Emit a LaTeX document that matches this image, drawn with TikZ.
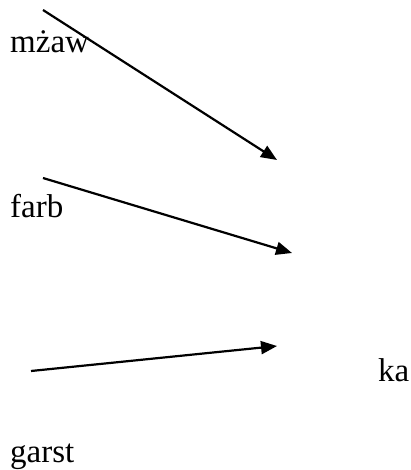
\documentclass[tikz,border=0pt]{standalone}
\usepackage{fontspec}
\setmainfont{Liberation Serif}
\usetikzlibrary{arrows.meta,positioning}
\tikzset{
  word/.style={
    anchor=base west,
    inner sep=0pt,
    font=\fontsize{33}{39}\selectfont
  },
  line/.style={-{Triangle[length=16pt,width=13pt]}, line width=2.2pt, draw=black}
}
\begin{document}
\begin{tikzpicture}[x=1pt,y=-1pt]
  \useasboundingbox (0,0) rectangle (411,470);
  \node[word] (mzaw) at (10,53) {mżaw};
  \node[word] (farb) at (10,217) {farb};
  \node[word] (ka) at (378,381) {ka};
  \node[word] (garst) at (10,462) {garst};

  \coordinate (s1) at (43,10);
  \coordinate (t1) at (277,160);
  \coordinate (s2) at (43,178);
  \coordinate (t2) at (292,253);
  \coordinate (s3) at (31,371);
  \coordinate (t3) at (277,346);

  \draw[line] (s1) -- (t1);
  \draw[line] (s2) -- (t2);
  \draw[line] (s3) -- (t3);
\end{tikzpicture}
\end{document}
